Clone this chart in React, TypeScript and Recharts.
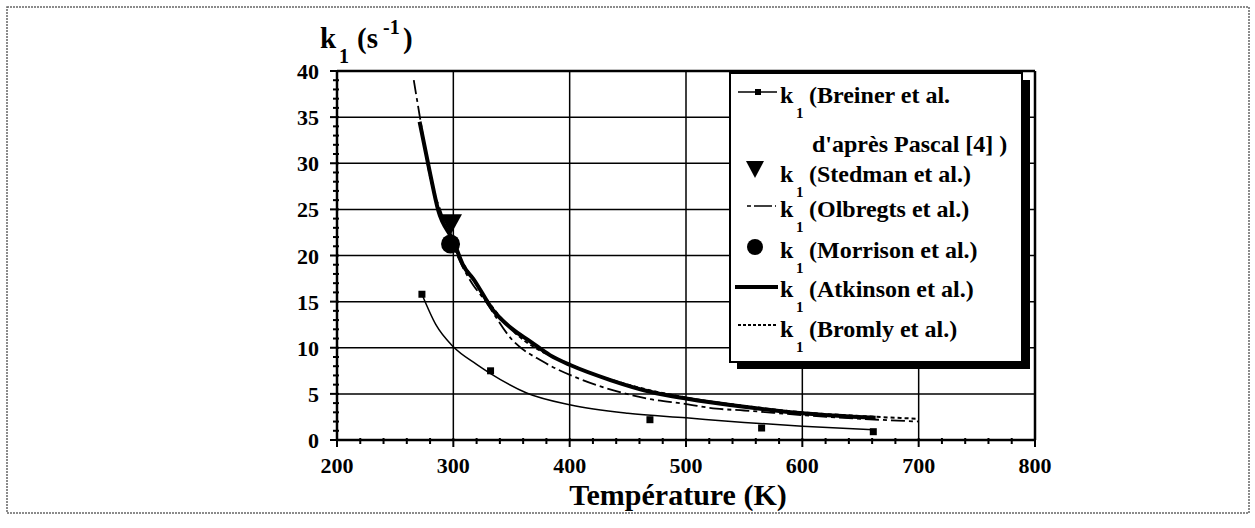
import React from 'react';
import {ComposedChart, Line, Scatter, XAxis, YAxis, CartesianGrid} from 'recharts';

const serif = '"Liberation Serif", "Times New Roman", serif';

// axis ticks (minor ticks every 20 K and every 1 s-1, labels on the major ones)
const xTicks = [200, 300, 400, 500, 600, 700, 800];
const xMinorTicks = Array.from({length: 31}, (_, i) => 200 + i * 20);
const yTicks = [0, 5, 10, 15, 20, 25, 30, 35, 40];
const yMinorTicks = Array.from({length: 41}, (_, i) => i);

// k1 (s-1) vs temperature (K)
const breinerFitT = [273, 285, 300, 320, 332, 363, 401, 450, 500, 550, 600, 661];
const breinerFitK = [15.8, 12.5, 10.1, 8.2, 7.2, 5.1, 3.8, 2.9, 2.4, 1.9, 1.5, 1.1];
const breinerPtsT = [273, 332, 469, 565, 661];
const breinerPtsK = [15.8, 7.5, 2.2, 1.3, 0.9];
const stedmanT = [298];
const stedmanK = [23.4];
const olbregtsT = [266, 271, 280, 290, 300, 317, 325, 351, 377, 409, 440, 466, 500, 526, 550, 600, 650, 700];
const olbregtsK = [39.0, 35.2, 28.5, 24.5, 21.0, 16.8, 15.5, 10.8, 8.5, 6.6, 5.3, 4.5, 3.9, 3.4, 3.2, 2.7, 2.3, 2.0];
const morrisonT = [297.6];
const morrisonK = [21.25];
const atkinsonT = [271, 280, 287, 300, 309, 317, 334, 350, 366, 383, 401, 435, 470, 500, 550, 600, 663];
const atkinsonK = [34.5, 28.9, 24.9, 21.6, 18.8, 17.5, 14.1, 12.1, 10.7, 9.2, 8.1, 6.5, 5.2, 4.5, 3.6, 2.9, 2.4];
const bromlyT = [300, 320, 350, 400, 450, 500, 550, 600, 650, 700];
const bromlyK = [21.0, 16.8, 12.0, 8.2, 6.0, 4.6, 3.7, 3.0, 2.6, 2.3];

const pts = (t: number[], k: number[]) => t.map((T, i) => ({T, k: k[i]}));

const Square = (p: any) => <rect x={p.cx - 3.5} y={p.cy - 3.5} width={7} height={7} fill="#000" />;
const DownTriangle = (p: any) => (
  <polygon points={`${p.cx - 11},${p.cy - 10} ${p.cx + 11},${p.cy - 10} ${p.cx},${p.cy + 10}`} fill="#000" />
);
const BigDot = (p: any) => <circle cx={p.cx} cy={p.cy} r={9.5} fill="#000" />;

const labelStyle = {fontSize: 22, fontWeight: 'bold' as const, fill: '#000', fontFamily: serif};
const axisLine = {stroke: '#000', strokeWidth: 2.5};
const tickLine = {stroke: '#000', strokeWidth: 2};

// bottom axis tick: long tick + label on hundreds, short tick otherwise
const XTick = (p: any) => {
  const v = p.payload.value;
  const major = v % 100 === 0;
  return (
    <g>
      <line x1={p.x} y1={p.y - 2} x2={p.x} y2={p.y + (major ? 7 : 4)} stroke="#000" strokeWidth={2} />
      {major && (
        <text x={p.x} y={p.y + 33} textAnchor="middle" {...labelStyle}>
          {v}
        </text>
      )}
    </g>
  );
};

const YTick = (p: any) => {
  const v = p.payload.value;
  const major = v % 5 === 0;
  return (
    <g>
      <line x1={p.x + 2} y1={p.y} x2={p.x - (major ? 7 : 4)} y2={p.y} stroke="#000" strokeWidth={2} />
      {major && (
        <text x={p.x - 18} y={p.y + 8} textAnchor="end" {...labelStyle}>
          {v}
        </text>
      )}
    </g>
  );
};

const LegendK = ({y, label}: {y: number; label: string}) => (
  <g fontFamily={serif} fontWeight="bold" fill="#000">
    <text x={780} y={y} fontSize={24}>k</text>
    <text x={796} y={y + 15} fontSize={15}>1</text>
    <text x={809} y={y} fontSize={24}>{label}</text>
  </g>
);

export default function App() {
  return (
    <div style={{position: 'absolute', left: 0, top: 0, width: 1255, height: 528, background: '#fff'}}>
      <ComposedChart
        width={1255}
        height={528}
        margin={{top: 61, right: 210, bottom: 38, left: 277}}
        style={{position: 'absolute', left: 0, top: 0}}>
        <CartesianGrid stroke="#000" strokeWidth={1.5} verticalValues={xTicks} horizontalValues={yTicks} />
        <XAxis
          dataKey="T"
          type="number"
          domain={[200, 800]}
          ticks={xMinorTicks}
          interval={0}
          height={50}
          tickSize={0}
          tickMargin={0}
          axisLine={axisLine}
          tickLine={false}
          tick={<XTick />}
        />
        <XAxis xAxisId="top" orientation="top" type="number" domain={[200, 800]} ticks={xTicks} interval={0}
          height={10} tickSize={6} axisLine={axisLine} tickLine={tickLine} tick={false} />
        <YAxis
          dataKey="k"
          type="number"
          domain={[0, 40]}
          ticks={yMinorTicks}
          interval={0}
          width={60}
          tickSize={0}
          tickMargin={0}
          axisLine={axisLine}
          tickLine={false}
          tick={<YTick />}
        />
        <YAxis yAxisId="right" orientation="right" type="number" domain={[0, 40]} ticks={yTicks} interval={0}
          width={10} tickSize={6} axisLine={axisLine} tickLine={tickLine} tick={false} />

        <Line data={pts(atkinsonT, atkinsonK)} dataKey="k" type="monotone" stroke="#000" strokeWidth={4}
          dot={false} activeDot={false} isAnimationActive={false} />
        <Line data={pts(bromlyT, bromlyK)} dataKey="k" type="monotone" stroke="#000" strokeWidth={2}
          strokeDasharray="4 3" dot={false} activeDot={false} isAnimationActive={false} />
        <Line data={pts(olbregtsT, olbregtsK)} dataKey="k" type="monotone" stroke="#000" strokeWidth={1.8}
          strokeDasharray="14 4 4 4" dot={false} activeDot={false} isAnimationActive={false} />
        <Line data={pts(breinerFitT, breinerFitK)} dataKey="k" type="monotone" stroke="#000" strokeWidth={1.5}
          dot={false} activeDot={false} isAnimationActive={false} />
        <Scatter data={pts(breinerPtsT, breinerPtsK)} dataKey="k" shape={Square} isAnimationActive={false} />
        <Scatter data={pts(stedmanT, stedmanK)} dataKey="k" shape={DownTriangle} isAnimationActive={false} />
        <Scatter data={pts(morrisonT, morrisonK)} dataKey="k" shape={BigDot} isAnimationActive={false} />
      </ComposedChart>

      <svg width={1255} height={528} style={{position: 'absolute', left: 0, top: 0, pointerEvents: 'none'}}>
        {/* page frame */}
        <rect x={7} y={7} width={1242} height={506} fill="none" stroke="#666" strokeWidth={1.5} strokeDasharray="2 1" />

        {/* y axis title */}
        <g fontFamily={serif} fontWeight="bold" fill="#000">
          <text x={320} y={48} fontSize={29}>k</text>
          <text x={339} y={63} fontSize={20}>1</text>
          <text x={357} y={48} fontSize={29}>(s</text>
          <text x={383} y={34} fontSize={20}>-1</text>
          <text x={403} y={48} fontSize={29}>)</text>
        </g>

        {/* x axis title */}
        <text x={678} y={505} textAnchor="middle" fontFamily={serif} fontWeight="bold" fontSize={30} fill="#000">
          Température (K)
        </text>

        {/* legend */}
        <rect x={737} y={80} width={293} height={289} fill="#000" />
        <rect x={730} y={73} width={292} height={289} fill="#fff" stroke="#000" strokeWidth={2} />

        <line x1={738} y1={92} x2={777} y2={92} stroke="#000" strokeWidth={1.5} />
        <rect x={755} y={89} width={6} height={6} fill="#000" />
        <LegendK y={103} label="(Breiner et al." />
        <text x={812} y={152} fontFamily={serif} fontWeight="bold" fontSize={24} fill="#000">
          d'après Pascal [4] )
        </text>

        <polygon points="746,161 764,161 755,178" fill="#000" />
        <LegendK y={182} label="(Stedman et al.)" />

        <line x1={747} y1={206} x2={776} y2={206} stroke="#000" strokeWidth={1.5} strokeDasharray="4 3 14 0" />
        <LegendK y={217} label="(Olbregts et al.)" />

        <circle cx={755} cy={247} r={8} fill="#000" />
        <LegendK y={258} label="(Morrison et al.)" />

        <line x1={735} y1={287} x2={778} y2={287} stroke="#000" strokeWidth={4} />
        <LegendK y={297} label="(Atkinson et al.)" />

        <line x1={738} y1={325} x2={778} y2={325} stroke="#000" strokeWidth={2} strokeDasharray="3 2" />
        <LegendK y={337} label="(Bromly et al.)" />
      </svg>
    </div>
  );
}
